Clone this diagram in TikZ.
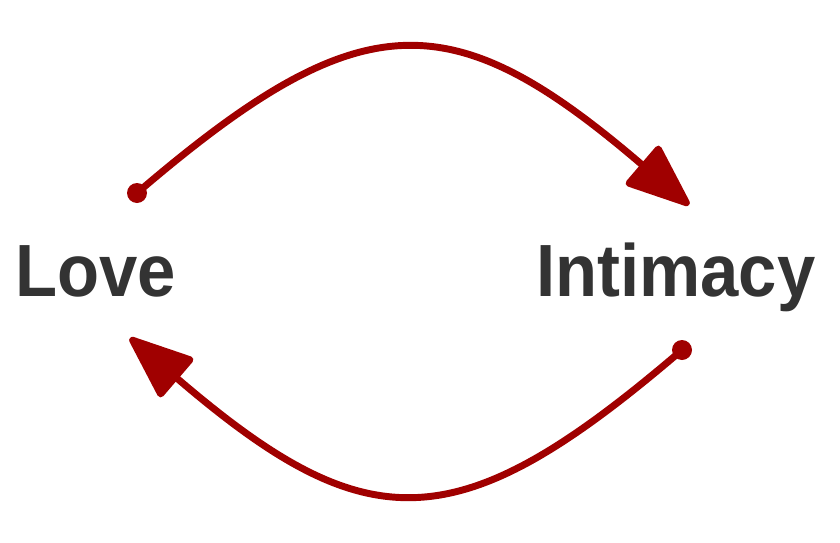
\documentclass[tikz,border=0pt]{standalone}
\usepackage{fontspec}
\setmainfont{Liberation Sans}[FakeStretch=0.93]
\usetikzlibrary{arrows.meta}
\definecolor{inkgray}{HTML}{333333}
\definecolor{loopred}{HTML}{A00000}
\begin{document}
\begin{tikzpicture}[x=0.75pt,y=-0.75pt,every node/.style={font=\bfseries}]
    \tikzset{
      word/.style={inner sep=0pt,text=inkgray,
        font=\bfseries\fontsize{55.5}{60}\selectfont},
      dot/.style={circle,fill=loopred,inner sep=0pt,minimum size=15pt},
      flow/.style={line width=5.2pt,draw=loopred,
        -{Triangle[length=52pt,width=40pt,round]}}
    }
    \useasboundingbox (0,0) rectangle (840,543);

    \node[word,anchor=base east] (love) at (176,296) {Love};
    \node[word,anchor=base west] (intim) at (536,296) {Intimacy};

    \node[dot] (loveout) at (137,193) {};
    \node[dot] (intimout) at (682,350) {};
    \coordinate (intimin) at (689,205);
    \coordinate (lovein) at (130,338);

    \draw[flow] (loveout.center) .. controls (361,1) and (451,1) .. (intimin);
    \draw[flow] (intimout.center) .. controls (458,542) and (368,542) .. (lovein);
  \end{tikzpicture}
\end{document}
